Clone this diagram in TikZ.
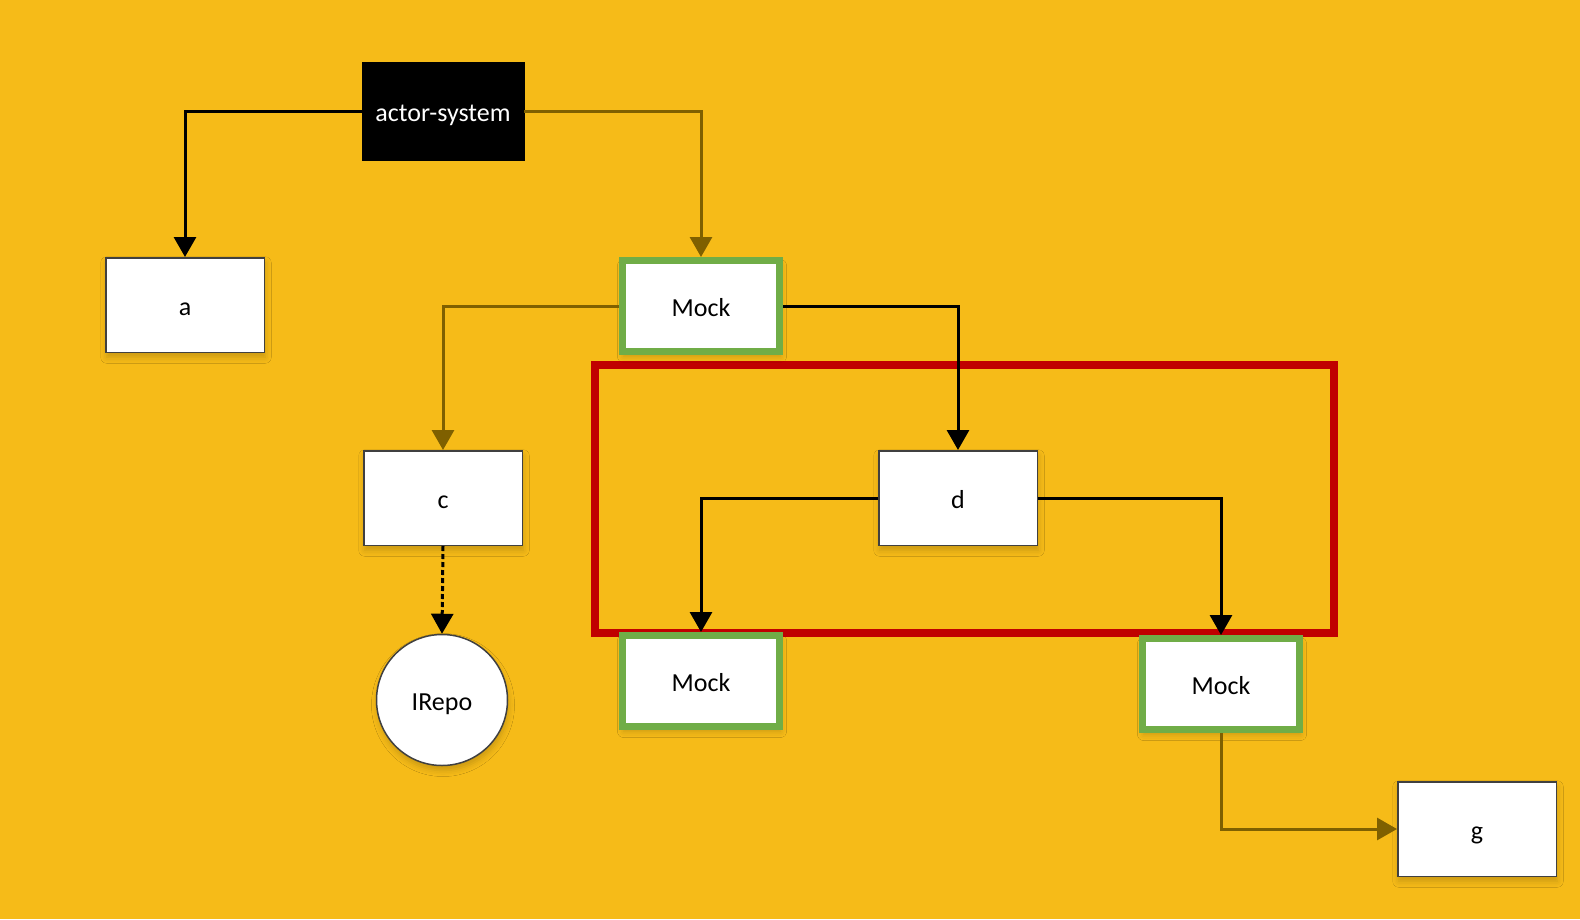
\documentclass[tikz,border=0pt]{standalone}
\usepackage{fontspec}
\setmainfont{Carlito}
\usetikzlibrary{arrows.meta,shadows.blur}
\definecolor{amberbg}{HTML}{F6BB18}
\definecolor{mockbrown}{HTML}{7F6000}
\definecolor{mockgreen}{HTML}{70AD47}
\definecolor{framered}{HTML}{C00000}
\definecolor{boxline}{HTML}{404040}
\begin{document}
\begin{tikzpicture}[x=1pt,y=-1pt,font=\fontsize{26}{31}\selectfont,
  every node/.style={text height=20pt,text depth=0pt},
  softshadow/.style={blur shadow={shadow xshift=1pt,shadow yshift=-5pt,shadow blur radius=6pt,shadow opacity=18}},
  box/.style={draw=boxline,line width=1.5pt,fill=white,minimum width=158.5pt,minimum height=94.5pt,softshadow},
  actorbox/.style={draw=black,fill=black,text=white,minimum width=162pt,minimum height=98pt},
  mockbox/.style={draw=mockgreen,line width=7pt,fill=white,minimum width=157pt,minimum height=91pt,softshadow},
  repo/.style={circle,draw=boxline,line width=1.5pt,fill=white,minimum size=131pt,inner sep=0pt,softshadow},
  blackarrow/.style={draw=black,line width=3pt,-{Triangle[length=20pt,width=22pt]}},
  brownarrow/.style={draw=mockbrown,line width=3pt,-{Triangle[length=20pt,width=22pt]}}]
% yellow canvas and the red frame round the d subtree
\fill[amberbg] (0,0) rectangle (1580,919);
\draw[framered,line width=8pt] (595,365) rectangle (1334,633);
% nodes
\node[actorbox] (actor) at (443,111) {actor-system};
\node[box] (a) at (185,305) {a};
\node[mockbox] (mockTop) at (701,306) {Mock};
\node[box] (c) at (443,498) {c};
\node[box] (d) at (958,498) {d};
\node[repo] (irepo) at (442,700) {IRepo};
\node[mockbox] (mockLeft) at (701,681) {Mock};
\node[mockbox] (mockRight) at (1221,684) {Mock};
\node[box] (g) at (1477,829) {g};
% connectors
\draw[blackarrow] (actor.west) -| (a.north);
\draw[brownarrow] (actor.east) -| (mockTop.north);
\draw[brownarrow] (mockTop.west) -| (c.north);
\draw[blackarrow] (mockTop.east) -| (d.north);
\draw[blackarrow] (d.west) -| (mockLeft.north);
\draw[blackarrow] (d.east) -| (mockRight.north);
\draw[blackarrow,dash pattern=on 5pt off 3pt] (c.south) -- (irepo.north);
\draw[brownarrow] (mockRight.south) |- (g.west);
\end{tikzpicture}
\end{document}
